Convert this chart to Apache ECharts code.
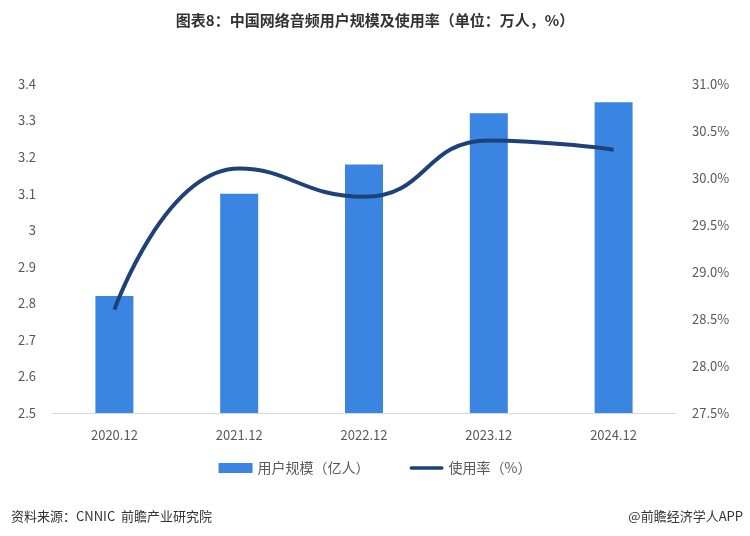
<!DOCTYPE html>
<html>
<head>
<meta charset="utf-8">
<script src="https://cdn.jsdelivr.net/npm/echarts@6/dist/echarts.min.js"></script>
<style>
html, body { margin: 0; padding: 0; background: #fff; }
#main { width: 750px; height: 536px; }
</style>
</head>
<body>
<div id="main"></div>
<script>
// 中国网络音频用户规模及使用率
var years = ['2020.12', '2021.12', '2022.12', '2023.12', '2024.12'];
var userScale = [2.82, 3.10, 3.18, 3.32, 3.35];   // 亿人
var useRate = [28.6, 30.1, 29.8, 30.4, 30.3];     // %

var chart = echarts.init(document.getElementById('main'));
var font = '"Noto Sans CJK SC", "Microsoft YaHei", sans-serif';

var option = {
    backgroundColor: '#fff',
    textStyle: { fontFamily: font },
    title: [
        {
            text: '图表8：中国网络音频用户规模及使用率（单位：万人，%）',
            left: 'center',
            top: 8,
            textStyle: { fontSize: 15, fontWeight: 'bold', color: '#333', fontFamily: font }
        },
        {
            text: '资料来源：CNNIC  前瞻产业研究院',
            left: 6,
            top: 505,
            textStyle: { fontSize: 13, fontWeight: 'normal', color: '#333', fontFamily: font }
        },
        {
            text: '@前瞻经济学人APP',
            right: 2,
            top: 505,
            textStyle: { fontSize: 13, fontWeight: 'normal', color: '#333', fontFamily: font }
        }
    ],
    legend: {
        top: 456,
        left: 'center',
        itemGap: 40,
        itemWidth: 34,
        itemHeight: 10,
        textStyle: { fontSize: 14, color: '#595959' },
        data: [
            { name: '用户规模（亿人）', icon: 'rect' },
            { name: '使用率（%）', icon: 'path://M2,0 L38,0 A2,2 0 0 1 38,4 L2,4 A2,2 0 0 1 2,0 Z' }
        ]
    },
    grid: { left: 52, right: 74, top: 84, bottom: 123 },
    xAxis: {
        type: 'category',
        data: years,
        axisLine: { lineStyle: { color: '#d9d9d9' } },
        axisTick: { show: false },
        axisLabel: { color: '#595959', fontSize: 13, margin: 16 }
    },
    yAxis: [
        {
            type: 'value',
            min: 2.5,
            max: 3.4,
            interval: 0.1,
            splitLine: { show: false },
            axisLine: { show: false },
            axisTick: { show: false },
            axisLabel: {
                color: '#595959', fontSize: 13, margin: 16,
                formatter: function (v) { return +v.toFixed(1) + ''; }
            }
        },
        {
            type: 'value',
            min: 27.5,
            max: 31.0,
            interval: 0.5,
            splitLine: { show: false },
            axisLine: { show: false },
            axisTick: { show: false },
            axisLabel: {
                color: '#595959', fontSize: 13, margin: 16,
                formatter: function (v) { return v.toFixed(1) + '%'; }
            }
        }
    ],
    series: [
        {
            name: '用户规模（亿人）',
            type: 'bar',
            data: userScale,
            barWidth: 38,
            itemStyle: { color: '#3a85e2' }
        },
        {
            name: '使用率（%）',
            type: 'line',
            yAxisIndex: 1,
            data: useRate,
            smooth: 0.5,
            symbol: 'none',
            lineStyle: { color: '#1d4279', width: 4 },
            itemStyle: { color: '#1d4279' }
        }
    ]
};

chart.setOption(option);
</script>
</body>
</html>
